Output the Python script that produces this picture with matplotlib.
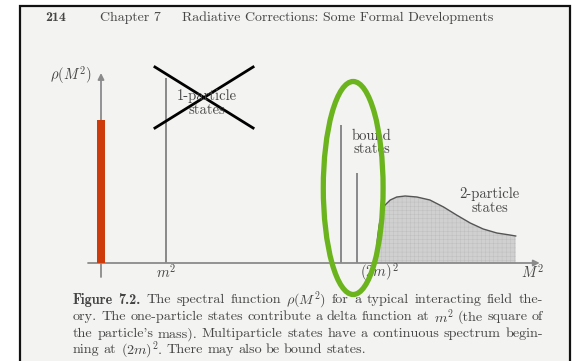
import matplotlib.pyplot as plt
from matplotlib.patches import Ellipse, Rectangle

plt.rcParams['font.family'] = ['cmr10', 'DejaVu Serif']
plt.rcParams['mathtext.fontset'] = 'cm'
plt.rcParams['axes.unicode_minus'] = False
plt.rcParams['hatch.color'] = '#bcbcbc'
plt.rcParams['hatch.linewidth'] = 0.3

# spectral function, units: m^2 = 1 along x, arbitrary height along y
m2 = 1.0
one_particle_height = 1.85
bound_pos = [3.69, 3.94]
bound_height = [1.38, 0.90]
threshold = 4.23
cont_x = [4.23, 4.25, 4.28, 4.34, 4.45, 4.55, 4.68, 4.86, 5.06, 5.27, 5.47,
          5.68, 5.88, 6.09, 6.29, 6.38]
cont_y = [0.0, 0.23, 0.38, 0.56, 0.63, 0.66, 0.67, 0.66, 0.63, 0.56, 0.48,
          0.40, 0.34, 0.30, 0.28, 0.27]
red_bar_height = 1.43

header = ["214", "Chapter 7", "Radiative Corrections: Some Formal Developments"]
caption = [
    ["Figure", "7.2.", "The", "spectral", "function",
     r"$\rho(M^2)$", "for", "a", "typical", "interacting", "field", "the-"],
    ["ory.", "The", "one-particle", "states", "contribute", "a", "delta",
     "function", "at", r"$m^2$", "(the", "square", "of"],
    ["the", "particle's", "mass).", "Multiparticle", "states", "have", "a",
     "continuous", "spectrum", "begin-"],
    ["ning", "at", r"$(2m)^2$.", "There", "may", "also", "be", "bound",
     "states."],
]
bold_words = 2  # "Figure 7.2." in bold

W, H = 576, 361
fig = plt.figure(figsize=(W / 100, H / 100), dpi=100)
fig.patch.set_facecolor('white')

# page frame
page = fig.add_axes([0, 0, 1, 1])
page.set_xlim(0, W)
page.set_ylim(H, 0)
page.axis('off')
page.add_patch(Rectangle((20, 6), 550, 370, facecolor='#f3f3f1',
                         edgecolor='#111111', linewidth=1.6))

ink = '#454545'
bold = ['cmb10', 'DejaVu Serif']
page.text(45, 18, header[0], fontsize=10, color=ink, va='center', family=bold)
page.text(100, 18, header[1], fontsize=10, color=ink, va='center')
page.text(182, 18, header[2], fontsize=10, color=ink, va='center')

# justified caption
fig.canvas.draw()
renderer = fig.canvas.get_renderer()
left, right = 73, 543
line_y = [300, 317, 334, 350]
for i, (words, y) in enumerate(zip(caption, line_y)):
    arts = []
    for j, w in enumerate(words):
        kw = dict(family=bold) if (i == 0 and j < bold_words) else {}
        arts.append(page.text(0, y, w, fontsize=10.2, color=ink, va='center', **kw))
    widths = [a.get_window_extent(renderer).width for a in arts]
    total = sum(widths)
    last = i == len(caption) - 1
    gap = 4.2 if last else (right - left - total) / (len(words) - 1)
    x = left
    for a, w in zip(arts, widths):
        a.set_x(x)
        x += w + gap

# chart in spectral-function units
ax = fig.add_axes([0, 0, 1, 1])
ax.set_xlim(-101 / 65, (W - 101) / 65)
ax.set_ylim((263 - H) / 100, 263 / 100)
ax.axis('off')
ax.patch.set_alpha(0)

axis_col = '#8a8a8a'
ax.annotate('', xy=(6.75, 0), xytext=(-0.2, 0),
            arrowprops=dict(arrowstyle='-|>', color=axis_col, lw=1.3,
                            mutation_scale=9, shrinkA=0, shrinkB=0))
ax.annotate('', xy=(0, 1.90), xytext=(0, -0.14),
            arrowprops=dict(arrowstyle='-|>', color=axis_col, lw=1.3,
                            mutation_scale=9, shrinkA=0, shrinkB=0))

line_col = '#777777'
ax.vlines([m2] + bound_pos, 0, [one_particle_height] + bound_height,
          color=line_col, lw=1.2)

ax.fill_between(cont_x, 0, cont_y, facecolor='#d0d0d0', hatch='++++',
                edgecolor='#bcbcbc', linewidth=0)
ax.plot(cont_x, cont_y, color='#555555', lw=1.0)

ax.bar([0], [red_bar_height], width=0.123, color='#cd3a0c', zorder=3)

lab = dict(color=ink, fontsize=10.5)
ax.text(-0.14, 1.88, r'$\rho(M^2)$', ha='right', va='center', **lab)
ax.text(m2, -0.09, r'$m^2$', ha='center', va='center', **lab)
ax.text(threshold + 0.05, -0.09, r'$(2m)^2$', ha='center', va='center', **lab)
ax.text(6.63, -0.09, r'$M^2$', ha='center', va='center', **lab)
ax.text(1.63, 1.60, '1-particle\nstates', ha='center', va='center',
        linespacing=0.95, **lab)
ax.text(4.16, 1.20, 'bound\nstates', ha='center', va='center',
        linespacing=0.95, **lab)
ax.text(5.98, 0.62, '2-particle\nstates', ha='center', va='center',
        linespacing=0.95, **lab)

# annotations on top
ax.plot([0.83, 2.34], [1.96, 1.35], color='black', lw=2.0)
ax.plot([0.83, 2.34], [1.35, 1.96], color='black', lw=2.0)
ax.add_patch(Ellipse((3.88, 0.75), 0.92, 2.13, fill=False,
                     edgecolor='#6cb41e', lw=3.8, zorder=5))

fig.savefig('out.png', dpi=100)
